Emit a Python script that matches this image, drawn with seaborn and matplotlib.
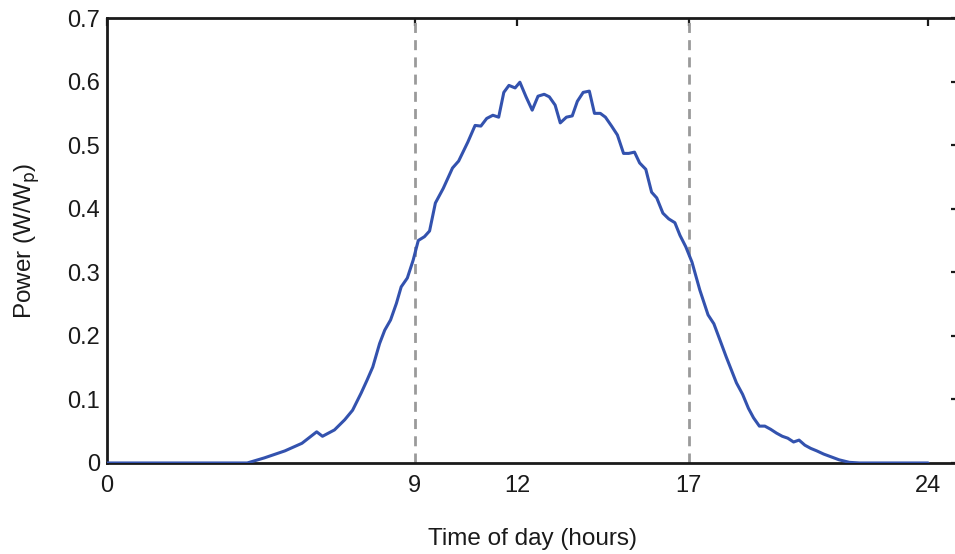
import matplotlib
matplotlib.use("Agg")
import matplotlib.pyplot as plt
import seaborn as sns
import pandas as pd

hours = [0.0, 4.0, 4.1, 4.6, 5.2, 5.7, 6.13, 6.3, 6.65, 6.95, 7.18, 7.43, 7.6, 7.77, 7.97, 8.12,
         8.29, 8.46, 8.6, 8.78, 8.95, 9.1, 9.28, 9.43, 9.6, 9.83, 10.1, 10.28, 10.55, 10.76,
         10.93, 11.1, 11.28, 11.45, 11.6, 11.75, 11.93, 12.07, 12.25, 12.43, 12.6, 12.78,
         12.93, 13.1, 13.25, 13.43, 13.6, 13.75, 13.92, 14.1, 14.25, 14.42, 14.57, 14.75,
         14.92, 15.1, 15.25, 15.42, 15.57, 15.75, 15.92, 16.07, 16.25, 16.42, 16.6, 16.75,
         16.92, 17.1, 17.33, 17.57, 17.74, 17.9, 18.1, 18.4, 18.58, 18.75, 18.9, 19.07,
         19.23, 19.4, 19.57, 19.74, 19.9, 20.07, 20.23, 20.4, 20.57, 20.75, 20.95, 21.2,
         21.4, 21.7, 22.0, 24.0]
power = [0.0, 0.0, 0.0, 0.008, 0.019, 0.031, 0.049, 0.042, 0.052, 0.068, 0.083, 0.110, 0.13,
         0.151, 0.188, 0.209, 0.225, 0.251, 0.277, 0.291, 0.319, 0.350, 0.356, 0.365, 0.409,
         0.432, 0.464, 0.475, 0.505, 0.531, 0.530, 0.542, 0.547, 0.544, 0.583, 0.594, 0.590,
         0.599, 0.576, 0.555, 0.577, 0.580, 0.576, 0.563, 0.535, 0.544, 0.546, 0.569, 0.583,
         0.585, 0.550, 0.550, 0.544, 0.530, 0.516, 0.487, 0.487, 0.489, 0.472, 0.462, 0.426,
         0.417, 0.393, 0.384, 0.378, 0.358, 0.340, 0.316, 0.272, 0.233, 0.219, 0.196, 0.167,
         0.126, 0.108, 0.086, 0.071, 0.058, 0.058, 0.053, 0.047, 0.042, 0.039, 0.033, 0.036,
         0.028, 0.023, 0.019, 0.014, 0.009, 0.005, 0.001, 0.0, 0.0]
x_ticks = [0, 9, 12, 17, 24]
y_ticks = [0, 0.1, 0.2, 0.3, 0.4, 0.5, 0.6, 0.7]
y_tick_labels = ["0", "0.1", "0.2", "0.3", "0.4", "0.5", "0.6", "0.7"]
markers = [9, 17]

sns.set_style("white")
plt.rcParams['font.family'] = ['Liberation Sans', 'DejaVu Sans']

df = pd.DataFrame({"hour": hours, "power": power})

fig = plt.figure(figsize=(9.55, 5.54), dpi=100)
ax = fig.add_axes([0.112, 0.1643, 0.892, 0.8032])

for m in markers:
    ax.axvline(m, color='#9a9a9a', lw=2, dashes=(3.6, 2.6), zorder=1)

sns.lineplot(data=df, x="hour", y="power", ax=ax, color='#3352AE', lw=2.2, zorder=3)

ax.set_xlim(0, 24.9)
ax.set_ylim(0, 0.7)
ax.set_xticks(x_ticks)
ax.set_xticklabels([str(t) for t in x_ticks])
ax.set_yticks(y_ticks)
ax.set_yticklabels(y_tick_labels)
ax.tick_params(direction='in', length=6, width=1.6, top=True, right=True,
               labelsize=17, colors='#1a1a1a', pad=5)
ax.tick_params(axis='x', pad=9)
for s in ax.spines.values():
    s.set_color('#1a1a1a')
    s.set_linewidth(2)

ax.set_xlabel("Time of day (hours)", fontsize=17.5, color='#1a1a1a', labelpad=22)
ax.set_ylabel("Power (W/W$_\\mathrm{p}$)", fontsize=17.5, color='#1a1a1a', labelpad=18)

fig.savefig("out.png", dpi=100)
